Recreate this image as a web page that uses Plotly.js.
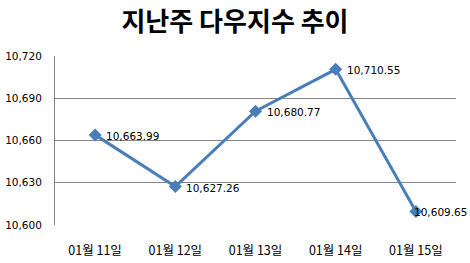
<!DOCTYPE html>
<html><head><meta charset="utf-8">
<script src="https://cdn.plot.ly/plotly-3.0.1.min.js"></script>
<style>html,body{margin:0;padding:0;background:#fff}#c{width:470px;height:263px}</style>
</head><body><div id="c"></div>
<script>
const categories = ["01월 11일", "01월 12일", "01월 13일", "01월 14일", "01월 15일"];
const values = [10663.99, 10627.26, 10680.77, 10710.55, 10609.65];
const yTicks = [10600, 10630, 10660, 10690, 10720];
const yTickLabels = ["10,600", "10,630", "10,660", "10,690", "10,720"];
const titleText = "지난주 다우지수 추이";

const fmt = v => v.toLocaleString('en-US', {minimumFractionDigits: 2, maximumFractionDigits: 2});
const krFont = "'Noto Sans CJK KR', 'DejaVu Sans', sans-serif";
const numFont = "'DejaVu Sans', sans-serif";

const trace = {
  x: categories, y: values, type: 'scatter', mode: 'lines+markers',
  line: {color: '#4A7EBB', width: 3},
  marker: {symbol: 'diamond', size: 10, color: '#4A7EBB'},
  cliponaxis: false, hoverinfo: 'none'
};
const annotations = values.map((v, i) => ({
  x: categories[i], y: v, xref: 'x', yref: 'y', text: fmt(v), showarrow: false,
  xanchor: 'left', yanchor: 'middle', xshift: i === values.length - 1 ? -4 : 9, yshift: -1,
  font: {family: numFont, size: 10.5, color: '#000'}
}));
const layout = {
  width: 470, height: 263,
  margin: {l: 55, r: 14, t: 56, b: 38},
  paper_bgcolor: '#fff', plot_bgcolor: '#fff',
  showlegend: false, annotations: annotations,
  title: {text: '<b>' + titleText + '</b>', font: {family: krFont, size: 26, color: '#000'}, x: 0.5, xanchor: 'center', y: 0.915, yanchor: 'middle'},
  xaxis: {type: 'category', range: [-0.5, 4.5], showgrid: false, zeroline: false,
    showline: false, ticks: 'outside', ticklen: 14, tickcolor: 'rgba(0,0,0,0)',
    tickfont: {family: krFont, size: 12.5, color: '#000'}},
  yaxis: {range: [10600, 10720], tickvals: yTicks, ticktext: yTickLabels,
    showgrid: true, gridcolor: '#868686', gridwidth: 1, zeroline: false,
    showline: true, linecolor: '#868686', linewidth: 1,
    ticks: 'outside', ticklen: 10, tickcolor: 'rgba(0,0,0,0)',
    tickfont: {family: numFont, size: 10.5, color: '#000'}}
};
Plotly.newPlot('c', [trace], layout, {staticPlot: true, displayModeBar: false});
</script></body></html>
